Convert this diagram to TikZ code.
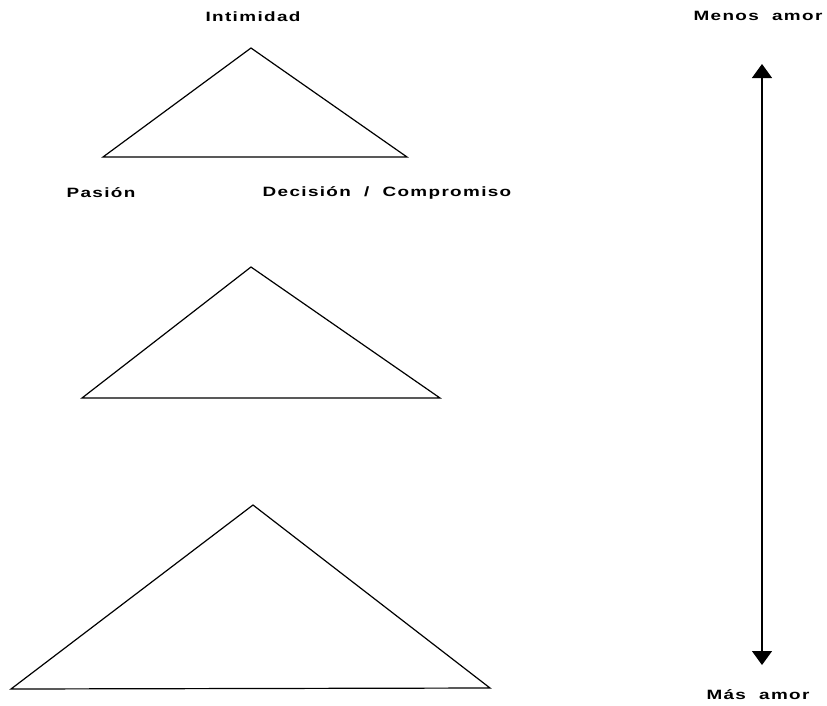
\documentclass[tikz,border=0pt]{standalone}
\usepackage{fontspec}
\setmainfont{Liberation Sans}[FakeStretch=1.4,LetterSpace=10,WordSpace=2]
\usetikzlibrary{arrows.meta}
\begin{document}
\begin{tikzpicture}[x=1pt,y=-1pt,
  lbl/.style={font=\bfseries\fontsize{13.5}{15}\selectfont,inner sep=0pt,anchor=center},
  tri/.style={draw,line width=1.2pt,line join=miter},
  scalearrow/.style={line width=1.2pt,{Triangle[length=14pt,width=20pt]}-{Triangle[length=14pt,width=20pt]}}]
\useasboundingbox (0,0) rectangle (827,705);
% labels
\node[lbl] (int) at (253,17) {Intimidad};
\node[lbl] (menos) at (758,16) {Menos amor};
\node[lbl] (pas) at (101,193) {Pasión};
\node[lbl] (dec) at (387,193) {Decisión / Compromiso};
\node[lbl] (mas) at (758,695) {Más amor};
% three triangles of growing size
\coordinate (a1) at (251,48);  \coordinate (l1) at (103,157); \coordinate (r1) at (407,157);
\coordinate (a2) at (251,267); \coordinate (l2) at (82,398);  \coordinate (r2) at (440,398);
\coordinate (a3) at (253,505); \coordinate (l3) at (11,689);  \coordinate (r3) at (490,688);
\draw[tri] (a1) -- (l1) -- (r1) -- cycle;
\draw[tri] (a2) -- (l2) -- (r2) -- cycle;
\draw[tri] (a3) -- (l3) -- (r3) -- cycle;
% love scale
\coordinate (top) at (762,64);
\coordinate (bot) at (762,665);
\draw[scalearrow] (bot) -- (top);
\end{tikzpicture}
\end{document}
